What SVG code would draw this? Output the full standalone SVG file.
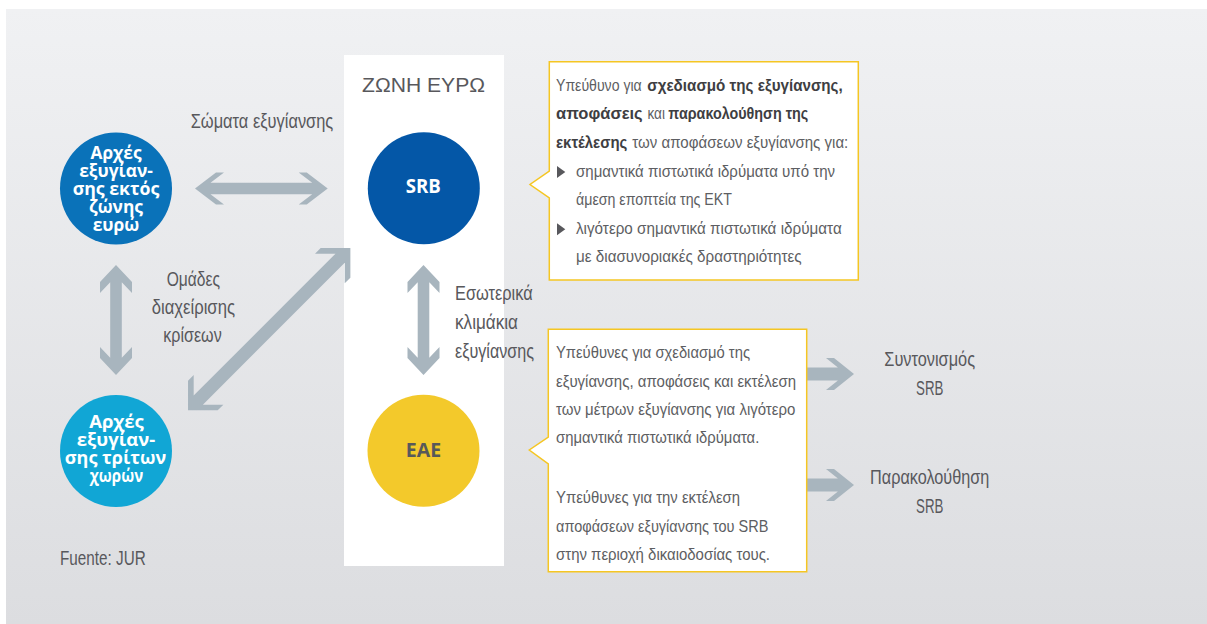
<svg xmlns="http://www.w3.org/2000/svg" width="1207" height="624" viewBox="0 0 1207 624">
<defs>
<linearGradient id="bg" x1="0" y1="0" x2="0" y2="1">
<stop offset="0" stop-color="#f0f1f3"/>
<stop offset="1" stop-color="#dcdde0"/>
</linearGradient>
</defs>
<style>
.lbl{font-family:"Liberation Sans Narrow","Liberation Sans",Arial,sans-serif;font-size:21px;fill:#58585c}
.mid{text-anchor:middle}
.co{font-family:"Liberation Sans Narrow","Liberation Sans",Arial,sans-serif;font-size:16.5px;fill:#5d5e62}
.b{font-weight:bold;fill:#3e3e42}
.ct{font-family:"Open Sans","DejaVu Sans",sans-serif;font-weight:bold;font-size:17px;fill:#fff;text-anchor:middle}
.arr{fill:#a8b5be}
.callout{fill:#fff;stroke:#f5c623;stroke-width:1.5}
.bul{fill:#58585c}
</style>
<rect x="0" y="0" width="1207" height="624" fill="#fff"/>
<rect x="6" y="9" width="1201" height="615" fill="url(#bg)"/>
<rect id="zone" x="344" y="55" width="160" height="511" fill="#fff"/>
<text class="lbl" x="362" y="91.5" textLength="123" lengthAdjust="spacingAndGlyphs">ΖΩΝΗ ΕΥΡΩ</text>

<g id="connectors">
<polygon class="arr" transform="translate(261.35,188.5)" points="66.35,0 45.35,-16 37.35,-16 50.85,-5.7 -50.85,-5.7 -37.35,-16 -45.35,-16 -66.35,0 -45.35,16 -37.35,16 -50.85,5.7 50.85,5.7 37.35,16 45.35,16"/>
<polygon class="arr" transform="translate(116,320) rotate(90)" points="55,0 38,-16 27,-16 37.84,-5.8 -37.84,-5.8 -27,-16 -38,-16 -55,0 -38,16 -27,16 -37.84,5.8 37.84,5.8 27,16 38,16"/>
<polygon class="arr" transform="translate(423.5,320) rotate(90)" points="55,0 38,-16 27,-16 37.84,-5.8 -37.84,-5.8 -27,-16 -38,-16 -55,0 -38,16 -27,16 -37.84,5.8 37.84,5.8 27,16 38,16"/>
<polygon class="arr" transform="translate(269.2,329.15) rotate(-45)" points="114.8,0 93.8,-21 85.8,-21 100.3,-6.5 -100.3,-6.5 -85.8,-21 -93.8,-21 -114.8,0 -93.8,21 -85.8,21 -100.3,6.5 100.3,6.5 85.8,21 93.8,21"/>
<polygon class="arr" points="854,374 834,358 826,358 837.9,367.5 806.7,367.5 806.7,380.5 837.9,380.5 826,390 834,390"/>
<polygon class="arr" points="854,485 834,469 826,469 837.9,478.5 806.7,478.5 806.7,491.5 837.9,491.5 826,501 834,501"/>
<text class="lbl" x="190.7" y="128.3" textLength="142.6" lengthAdjust="spacingAndGlyphs">Σώματα εξυγίανσης</text>
<text class="lbl mid" x="193.3" y="285.5" textLength="53.3" lengthAdjust="spacingAndGlyphs">Ομάδες</text>
<text class="lbl mid" x="193.3" y="313.5" textLength="83.3" lengthAdjust="spacingAndGlyphs">διαχείρισης</text>
<text class="lbl mid" x="192.5" y="341.5" textLength="58.4" lengthAdjust="spacingAndGlyphs">κρίσεων</text>
<text class="lbl" x="455" y="300" textLength="77.7" lengthAdjust="spacingAndGlyphs">Εσωτερικά</text>
<text class="lbl" x="455" y="329" textLength="63" lengthAdjust="spacingAndGlyphs">κλιμάκια</text>
<text class="lbl" x="455" y="358" textLength="79" lengthAdjust="spacingAndGlyphs">εξυγίανσης</text>
</g>

<g id="node-outside">
<circle cx="116" cy="188.5" r="56" fill="#0a72b9"/>
<text class="ct" x="116" y="158.7" textLength="51" lengthAdjust="spacingAndGlyphs">Αρχές</text>
<text class="ct" x="116" y="176.8" textLength="73.7" lengthAdjust="spacingAndGlyphs">εξυγίαν-</text>
<text class="ct" x="116" y="194.9" textLength="86.7" lengthAdjust="spacingAndGlyphs">σης εκτός</text>
<text class="ct" x="116" y="213" textLength="54" lengthAdjust="spacingAndGlyphs">ζώνης</text>
<text class="ct" x="116" y="231.1" textLength="46.7" lengthAdjust="spacingAndGlyphs">ευρώ</text>
</g>

<g id="node-third">
<circle cx="116" cy="451" r="56" fill="#11a6d5"/>
<text class="ct" x="116.5" y="427.7" textLength="54.7" lengthAdjust="spacingAndGlyphs">Αρχές</text>
<text class="ct" x="116" y="445.7" textLength="78.3" lengthAdjust="spacingAndGlyphs">εξυγίαν-</text>
<text class="ct" x="115.5" y="463.7" textLength="101.3" lengthAdjust="spacingAndGlyphs">σης τρίτων</text>
<text class="ct" x="116.5" y="481.7" textLength="53.3" lengthAdjust="spacingAndGlyphs">χωρών</text>
</g>

<g id="node-srb">
<circle cx="423.8" cy="188.3" r="56" fill="#0457a7"/>
<text class="ct" x="423.3" y="192.7" textLength="35" lengthAdjust="spacingAndGlyphs" style="font-size:19px">SRB</text>
</g>

<g id="node-eae">
<circle cx="423.5" cy="450.8" r="56" fill="#f3c92b"/>
<text class="ct" x="423.5" y="457.3" textLength="35.3" lengthAdjust="spacingAndGlyphs" style="fill:#58585a;font-size:19px">EAE</text>
</g>

<g id="callout-srb">
<path class="callout" d="M549.3,61.7 H858.3 V280 H549.3 V198 L530,184.5 L549.3,171 Z"/>
<text class="co" x="556" y="90.7" textLength="85.7" lengthAdjust="spacingAndGlyphs">Υπεύθυνο για</text>
<text class="co b" x="647.3" y="90.7" textLength="195.4" lengthAdjust="spacingAndGlyphs">σχεδιασμό της εξυγίανσης,</text>
<text class="co b" x="556" y="119.3" textLength="86.7" lengthAdjust="spacingAndGlyphs">αποφάσεις</text>
<text class="co" x="647.5" y="119.3" textLength="17.5" lengthAdjust="spacingAndGlyphs">και</text>
<text class="co b" x="668.3" y="119.3" textLength="140" lengthAdjust="spacingAndGlyphs">παρακολούθηση της</text>
<text class="co b" x="556" y="148" textLength="71.3" lengthAdjust="spacingAndGlyphs">εκτέλεσης</text>
<text class="co" x="632.3" y="148" textLength="216" lengthAdjust="spacingAndGlyphs">των αποφάσεων εξυγίανσης για:</text>
<polygon class="bul" points="557,166 565.3,172 557,178"/>
<text class="co" x="576" y="176.6" textLength="259" lengthAdjust="spacingAndGlyphs">σημαντικά πιστωτικά ιδρύματα υπό την</text>
<text class="co" x="576" y="205.2" textLength="156" lengthAdjust="spacingAndGlyphs">άμεση εποπτεία της ΕΚΤ</text>
<polygon class="bul" points="557,223.3 565.3,229.3 557,235.3"/>
<text class="co" x="576" y="233.8" textLength="265.7" lengthAdjust="spacingAndGlyphs">λιγότερο σημαντικά πιστωτικά ιδρύματα</text>
<text class="co" x="576" y="262.4" textLength="225.7" lengthAdjust="spacingAndGlyphs">με διασυνοριακές δραστηριότητες</text>
</g>

<g id="callout-eae">
<path class="callout" d="M548.3,329.3 H806.7 V571.7 H548.3 V464 L529.3,450 L548.3,437 Z"/>
<text class="co" x="556" y="358.3" textLength="194" lengthAdjust="spacingAndGlyphs">Υπεύθυνες για σχεδιασμό της</text>
<text class="co" x="556" y="386.6" textLength="240" lengthAdjust="spacingAndGlyphs">εξυγίανσης, αποφάσεις και εκτέλεση</text>
<text class="co" x="556" y="414.9" textLength="239.3" lengthAdjust="spacingAndGlyphs">των μέτρων εξυγίανσης για λιγότερο</text>
<text class="co" x="556" y="443.2" textLength="203.3" lengthAdjust="spacingAndGlyphs">σημαντικά πιστωτικά ιδρύματα.</text>
<text class="co" x="556" y="503.3" textLength="184" lengthAdjust="spacingAndGlyphs">Υπεύθυνες για την εκτέλεση</text>
<text class="co" x="556" y="531.6" textLength="212.3" lengthAdjust="spacingAndGlyphs">αποφάσεων εξυγίανσης του SRB</text>
<text class="co" x="556" y="559.9" textLength="214" lengthAdjust="spacingAndGlyphs">στην περιοχή δικαιοδοσίας τους.</text>
</g>

<g id="node-coord">
<text class="lbl mid" x="929.7" y="366" textLength="90.7" lengthAdjust="spacingAndGlyphs">Συντονισμός</text>
<text class="lbl mid" x="929.7" y="395" textLength="27.3" lengthAdjust="spacingAndGlyphs">SRB</text>
</g>

<g id="node-monitor">
<text class="lbl mid" x="929.7" y="484" textLength="119.3" lengthAdjust="spacingAndGlyphs">Παρακολούθηση</text>
<text class="lbl mid" x="929.7" y="513" textLength="27.3" lengthAdjust="spacingAndGlyphs">SRB</text>
</g>

<text id="source" class="lbl" x="60" y="565" textLength="85.7" lengthAdjust="spacingAndGlyphs">Fuente: JUR</text>
</svg>
